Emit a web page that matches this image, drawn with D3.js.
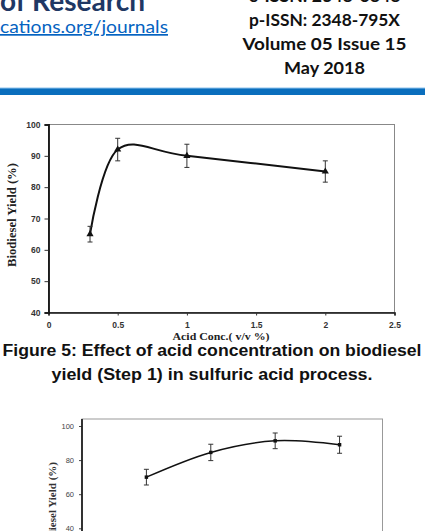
<!DOCTYPE html>
<html>
<head>
<meta charset="utf-8">
<script src="https://cdn.jsdelivr.net/npm/d3@7"></script>
<style>
  body { margin: 0; background: #fff; }
  svg { display: block; overflow: hidden; }
</style>
</head>
<body>
<div id="page"></div>
<script>
// page header (cut off by the crop)
const headerLeft = ["of Research", "cations.org/journals"];
const headerRight = ["e-ISSN: 2348-6848", "p-ISSN: 2348-795X", "Volume 05 Issue 15", "May 2018"];

// figure 5 values
const acidConc = [0.3, 0.5, 1, 2];
const acidYield = [65, 92, 90, 85];
const acidErr = [2.5, 3.6, 3.7, 3.4];
const acidXTicks = [0, 0.5, 1, 1.5, 2, 2.5];
const acidYTicks = [40, 50, 60, 70, 80, 90, 100];

const caption = ["Figure 5: Effect of acid concentration on biodiesel", "yield (Step 1) in sulfuric acid process."];

// next figure, only its top part is on the page
const fig2X = [3, 6, 9, 12];
const fig2Yield = [70, 84.5, 91.3, 89];
const fig2Err = [4.6, 4.8, 4.6, 5];
const fig2YTicks = [0, 20, 40, 60, 80, 100];

let width = 425, height = 531;

const svg = d3.select("#page").append("svg")
  .attr("width", width)
  .attr("height", height);

// ---- header
const head = svg.append("g");
head.append("text")
  .attr("x", 0).attr("y", 11)
  .attr("font-family", "Lato, 'Open Sans', sans-serif")
  .attr("font-weight", 700)
  .attr("font-size", 28)
  .attr("fill", "#1f3864")
  .attr("textLength", 145).attr("lengthAdjust", "spacingAndGlyphs")
  .text(headerLeft[0]);
head.append("text")
  .attr("x", 0).attr("y", 33)
  .attr("font-family", "Lato, 'Open Sans', sans-serif")
  .attr("font-size", 17)
  .attr("fill", "#0563c1")
  .attr("text-decoration", "underline")
  .attr("textLength", 168).attr("lengthAdjust", "spacingAndGlyphs")
  .text(headerLeft[1]);

const rightWidths = [152, 151, 164, 81];
head.selectAll("text.right")
  .data(headerRight)
  .join("text")
  .attr("class", "right")
  .attr("x", 324.5)
  .attr("y", (d, i) => 2 + i * 24)
  .attr("text-anchor", "middle")
  .attr("font-family", "Lato, 'Open Sans', sans-serif")
  .attr("font-weight", 700)
  .attr("font-size", 17)
  .attr("fill", "#111")
  .attr("textLength", (d, i) => rightWidths[i]).attr("lengthAdjust", "spacingAndGlyphs")
  .text(d => d);

head.append("rect").attr("x", 0).attr("y", 88).attr("width", width).attr("height", 7).attr("fill", "#0a6ebd");
head.append("rect").attr("x", 0).attr("y", 87.5).attr("width", width).attr("height", 1).attr("fill", "#8fc4ee");

// ---- figure 5
let x1 = d3.scaleLinear().domain([0, 2.5]).range([48.5, 394.5]),
  y1 = d3.scaleLinear().domain([40, 100]).range([312.5, 124.5]);

const fig1 = svg.append("g");

// frame
fig1.append("rect")
  .attr("x", x1(0)).attr("y", y1(100))
  .attr("width", x1(2.5) - x1(0)).attr("height", y1(40) - y1(100))
  .attr("fill", "none").attr("stroke", "#888").attr("stroke-width", 1);

const xAxis1 = d3.axisBottom(x1).tickValues(acidXTicks).tickSize(3).tickPadding(6)
  .tickFormat(d => d3.format("")(d));
const yAxis1 = d3.axisLeft(y1).tickValues(acidYTicks).tickSize(4).tickPadding(4);

fig1.append("g")
  .attr("id", "axis--x")
  .attr("transform", "translate(0," + y1(40) + ")")
  .call(xAxis1)
  .call(g => g.select(".domain").attr("stroke", "#111").attr("stroke-width", 1.5));
fig1.append("g")
  .attr("id", "axis--y")
  .attr("transform", "translate(" + x1(0) + ",0)")
  .call(yAxis1)
  .call(g => g.select(".domain").attr("stroke", "#111").attr("stroke-width", 1.8));

fig1.selectAll(".tick text")
  .attr("font-family", "'Liberation Sans', Arial, sans-serif")
  .attr("font-weight", 700)
  .attr("font-size", 8.5)
  .attr("fill", "#333");
fig1.selectAll(".tick line").attr("stroke", "#333");

// axis titles
fig1.append("text")
  .attr("transform", "translate(16," + 215 + ") rotate(-90)")
  .attr("text-anchor", "middle")
  .attr("font-family", "'Liberation Serif', 'DejaVu Serif', serif")
  .attr("font-weight", 700)
  .attr("font-size", 12)
  .attr("fill", "#222")
  .attr("textLength", 104).attr("lengthAdjust", "spacingAndGlyphs")
  .text("Biodiesel Yield (%)");
fig1.append("text")
  .attr("x", 221).attr("y", 340)
  .attr("text-anchor", "middle")
  .attr("font-family", "'Liberation Serif', 'DejaVu Serif', serif")
  .attr("font-weight", 700)
  .attr("font-size", 10)
  .attr("fill", "#222")
  .attr("textLength", 97).attr("lengthAdjust", "spacingAndGlyphs")
  .text("Acid Conc.( v/v %)");

const pts1 = acidConc.map((c, i) => ({ x: c, y: acidYield[i], e: acidErr[i] }));

fig1.append("path")
  .datum(pts1)
  .attr("fill", "none")
  .attr("stroke", "#111")
  .attr("stroke-width", 2)
  .attr("d", d3.line().x(d => x1(d.x)).y(d => y1(d.y)).curve(d3.curveCardinal.tension(0)));

// error bars
const err1 = fig1.selectAll("g.err").data(pts1).join("g").attr("class", "err").attr("stroke", "#333").attr("stroke-width", 1);
err1.append("line").attr("x1", d => x1(d.x)).attr("x2", d => x1(d.x)).attr("y1", d => y1(d.y - d.e)).attr("y2", d => y1(d.y + d.e));
err1.append("line").attr("x1", d => x1(d.x) - 2.5).attr("x2", d => x1(d.x) + 2.5).attr("y1", d => y1(d.y - d.e)).attr("y2", d => y1(d.y - d.e));
err1.append("line").attr("x1", d => x1(d.x) - 2.5).attr("x2", d => x1(d.x) + 2.5).attr("y1", d => y1(d.y + d.e)).attr("y2", d => y1(d.y + d.e));

fig1.selectAll("path.mark")
  .data(pts1)
  .join("path")
  .attr("class", "mark")
  .attr("transform", d => "translate(" + x1(d.x) + "," + y1(d.y) + ")")
  .attr("d", d3.symbol(d3.symbolTriangle).size(22))
  .attr("fill", "#111");

// ---- caption
svg.selectAll("text.caption")
  .data(caption)
  .join("text")
  .attr("class", "caption")
  .attr("x", 212)
  .attr("y", (d, i) => 356 + i * 23.5)
  .attr("text-anchor", "middle")
  .attr("font-family", "'Liberation Sans', Arial, sans-serif")
  .attr("font-weight", 700)
  .attr("font-size", 16)
  .attr("fill", "#111")
  .attr("textLength", (d, i) => [419, 321][i]).attr("lengthAdjust", "spacingAndGlyphs")
  .text(d => d);

// ---- second figure
let x2 = d3.scaleLinear().domain([0, 14]).range([82, 382.5]),
  y2 = d3.scaleLinear().domain([0, 100]).range([596.5, 426]);

const fig2 = svg.append("g");
fig2.append("rect")
  .attr("x", x2(0)).attr("y", 419)
  .attr("width", x2(14) - x2(0)).attr("height", y2(0) - 419)
  .attr("fill", "none").attr("stroke", "#999").attr("stroke-width", 1);

fig2.append("g")
  .attr("transform", "translate(" + x2(0) + ",0)")
  .call(d3.axisLeft(y2).tickValues(fig2YTicks).tickSize(3).tickPadding(5))
  .call(g => g.select(".domain").remove())
  .call(g => g.selectAll(".tick line").attr("stroke", "#444"))
  .call(g => g.selectAll(".tick text")
    .attr("font-family", "'Liberation Sans', Arial, sans-serif")
    .attr("font-size", 7.5)
    .attr("fill", "#444"));
fig2.append("line")
  .attr("x1", x2(0)).attr("x2", x2(0))
  .attr("y1", 419).attr("y2", y2(0))
  .attr("stroke", "#222").attr("stroke-width", 1.8);

fig2.append("text")
  .attr("transform", "translate(56,462) rotate(-90)")
  .attr("text-anchor", "end")
  .attr("font-family", "'Liberation Serif', 'DejaVu Serif', serif")
  .attr("font-weight", 700)
  .attr("font-size", 11)
  .attr("fill", "#333")
  .text("Biodiesel Yield (%)");

const pts2 = fig2X.map((c, i) => ({ x: c, y: fig2Yield[i], e: fig2Err[i] }));

fig2.append("path")
  .datum(pts2)
  .attr("fill", "none")
  .attr("stroke", "#111")
  .attr("stroke-width", 1.5)
  .attr("d", d3.line().x(d => x2(d.x)).y(d => y2(d.y)).curve(d3.curveCardinal.tension(0)));

const err2 = fig2.selectAll("g.err").data(pts2).join("g").attr("class", "err").attr("stroke", "#333").attr("stroke-width", 1);
err2.append("line").attr("x1", d => x2(d.x)).attr("x2", d => x2(d.x)).attr("y1", d => y2(d.y - d.e)).attr("y2", d => y2(d.y + d.e));
err2.append("line").attr("x1", d => x2(d.x) - 2.5).attr("x2", d => x2(d.x) + 2.5).attr("y1", d => y2(d.y - d.e)).attr("y2", d => y2(d.y - d.e));
err2.append("line").attr("x1", d => x2(d.x) - 2.5).attr("x2", d => x2(d.x) + 2.5).attr("y1", d => y2(d.y + d.e)).attr("y2", d => y2(d.y + d.e));

fig2.selectAll("path.mark")
  .data(pts2)
  .join("path")
  .attr("class", "mark")
  .attr("transform", d => "translate(" + x2(d.x) + "," + y2(d.y) + ")")
  .attr("d", d3.symbol(d3.symbolSquare).size(12))
  .attr("fill", "#111");
</script>
</body>
</html>
